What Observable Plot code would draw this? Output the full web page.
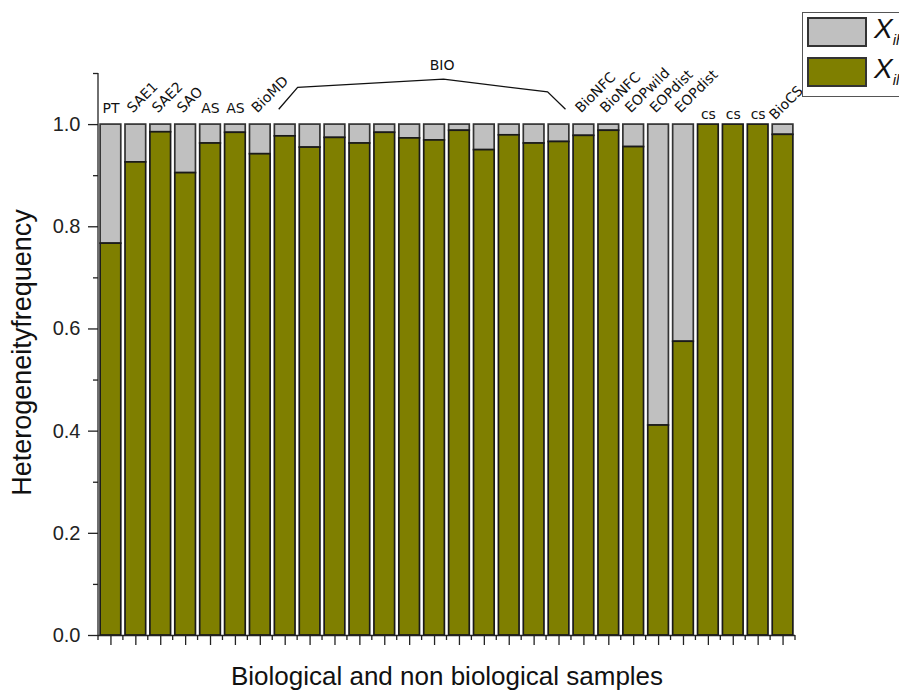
<!DOCTYPE html>
<html>
<head>
<meta charset="utf-8">
<script src="https://cdn.jsdelivr.net/npm/d3@7"></script>
<script src="https://cdn.jsdelivr.net/npm/@observablehq/plot@0.6"></script>
<style>
  html, body { margin: 0; padding: 0; background: #fff; overflow: hidden; }
  #wrap { position: relative; width: 899px; height: 693px; }
  .legend { position: absolute; left: 802px; top: 12px; width: 150px; height: 85px;
            border: 1px solid #555; background: #fff; box-sizing: border-box;
            font-family: "Liberation Sans", Arial, sans-serif; }
  .legend .item { position: absolute; left: 4px; height: 30px; }
  .legend .sw { position: absolute; left: 0; top: 0; width: 60px; height: 30px;
                border: 2px solid #333; box-sizing: border-box; }
  .legend .lab { position: absolute; left: 67px; top: -4px; font-size: 28px;
                 font-style: italic; white-space: nowrap; color: #111; }
  .legend .lab sub { font-size: 15px; }
</style>
</head>
<body>
<div id="wrap"></div>
<script>
// Sample names shown above each bar (the BIO group bars carry no individual name)
const labels = [
  "PT", "SAE1", "SAE2", "SAO", "AS", "AS", "BioMD",
  null, null, null, null, null, null, null, null, null, null, null, null,
  "BioNFC", "BioNFC", "EOPwild", "EOPdist", "EOPdist", "cs", "cs", "cs", "BioCS"
];
// Homogeneous fraction X_il of each sample; the heterogeneous part X_ih is the rest up to 1
const homogeneous = [
  0.767, 0.926, 0.985, 0.905, 0.963, 0.984, 0.942,
  0.977, 0.955, 0.974, 0.963, 0.984, 0.973, 0.969, 0.988, 0.950, 0.979, 0.963, 0.966,
  0.978, 0.988, 0.956, 0.411, 0.575, 1.000, 1.000, 1.000, 0.980
];
// Bracketed group of samples
const groupLabel = "BIO";
const groupFirst = 7;
const groupLast = 18;
// The control samples at the end (cs ... BioCS) have their names set a little lower
const controlFirst = 24;
// Series names and colours
const seriesNames = ["ih", "il"];
const seriesColors = ["#c0c0c0", "#7f7f00"];
// Axis ticks
const yMajor = [0, 0.2, 0.4, 0.6, 0.8, 1.0];
const yMinor = [0.1, 0.3, 0.5, 0.7, 0.9, 1.1];
const xTitle = "Biological and non biological samples";
const yTitle = "Heterogeneityfrequency";

const rows = labels.map((label, i) => ({i, label, il: homogeneous[i], ih: 1 - homogeneous[i]}));
const index = rows.map(d => d.i);

const axisFont = "'Liberation Sans', Arial, sans-serif";
const labelFont = "'DejaVu Sans', Verdana, sans-serif";
const ink = "#222";

// Left axis line and the short ticks on the bar boundaries
function axisLines(idx, scales) {
  const x = scales.x, y = scales.y;
  const step = x.step(), bw = x.bandwidth();
  const g = d3.create("svg:g").attr("stroke", ink).attr("stroke-width", 1.3).attr("fill", "none");
  const x0 = x(index[0]) + bw / 2 - step / 2;
  g.append("line").attr("x1", x0).attr("x2", x0).attr("y1", y(0)).attr("y2", y(1.1));
  const bounds = index.map(i => x(i) + bw / 2 - step / 2).concat([x(index[index.length - 1]) + bw / 2 + step / 2]);
  for (const b of bounds) {
    g.append("line").attr("x1", b).attr("x2", b).attr("y1", y(0)).attr("y2", y(0) + 5);
  }
  return g.node();
}

// Bracket spanning the BIO group, with its name above
function bracket(idx, scales) {
  const x = scales.x, y = scales.y;
  const step = x.step(), bw = x.bandwidth();
  const c0 = x(groupFirst) + bw / 2, c1 = x(groupLast) + bw / 2;
  const pts = [
    [c0 - 0.24 * step, 1.029],
    [c0 + 0.52 * step, 1.072],
    [c0 + 0.58 * (c1 - c0), 1.088],
    [c1 - 0.44 * step, 1.063],
    [c1 + 0.28 * step, 1.029]
  ];
  const g = d3.create("svg:g");
  g.append("path")
    .attr("d", d3.line().x(p => p[0]).y(p => y(p[1]))(pts))
    .attr("fill", "none").attr("stroke", "#111").attr("stroke-width", 1.3);
  g.append("text")
    .attr("x", c0 + 0.575 * (c1 - c0)).attr("y", y(1.106))
    .attr("text-anchor", "middle")
    .attr("font-family", labelFont).attr("font-size", 14).attr("fill", "#111")
    .text(groupLabel);
  return g.node();
}

// Sample-name marks: upright for short names, slanted for longer ones
function nameMarks(subset, lower) {
  const upright = subset.filter(d => d.label && d.label.length <= 2);
  const slanted = subset.filter(d => d.label && d.label.length > 2);
  return [
    Plot.text(upright, {
      x: "i", y: () => 1, text: "label", dy: lower ? -6 : -12, lineAnchor: "bottom",
      fontFamily: labelFont, fontSize: 14, fill: "#111"
    }),
    Plot.text(slanted, {
      x: "i", y: () => 1, text: "label", dx: lower ? -8 : -3, dy: lower ? -4 : -11, rotate: -45,
      textAnchor: "start", lineAnchor: "bottom",
      fontFamily: labelFont, fontSize: 14, fill: "#111"
    })
  ];
}

const chart = Plot.plot({
  width: 899,
  height: 693,
  marginLeft: 98,
  marginRight: 104,
  marginTop: 73,
  marginBottom: 58,
  style: {background: "white", fontFamily: axisFont, color: ink},
  x: {type: "band", domain: index, paddingInner: 0.17, paddingOuter: 0.085, round: false, label: null},
  y: {domain: [0, 1.1], label: null},
  marks: [
    // heterogeneous part on top
    Plot.barY(rows, {x: "i", y1: "il", y2: () => 1, fill: seriesColors[0], stroke: "#333", strokeWidth: 1.7}),
    // homogeneous part from zero
    Plot.barY(rows, {x: "i", y1: () => 0, y2: "il", fill: seriesColors[1], stroke: "#1a1a1a", strokeWidth: 1.7}),
    Plot.ruleY([0], {stroke: ink, strokeWidth: 1.3}),
    axisLines,
    Plot.axisX({ticks: index, tickSize: 10, fill: "none", stroke: ink, strokeWidth: 1.3}),
    Plot.axisY({ticks: yMajor, tickSize: 10, tickPadding: 8, tickFormat: ".1f",
                fontSize: 20, stroke: ink, strokeWidth: 1.3, fill: ink}),
    Plot.axisY({ticks: yMinor, tickSize: 5, fill: "none", stroke: ink, strokeWidth: 1.3}),
    ...nameMarks(rows.filter(d => d.i < controlFirst), false),
    ...nameMarks(rows.filter(d => d.i >= controlFirst), true),
    bracket,
    Plot.text([xTitle], {text: d => d, frameAnchor: "bottom", lineAnchor: "bottom", dy: 49, fontSize: 26, fill: "#111"}),
    Plot.text([yTitle], {text: d => d, frameAnchor: "left", textAnchor: "middle", dx: -76, dy: -2,
                         rotate: -90, fontSize: 27, fill: "#111"})
  ]
});

const wrap = document.getElementById("wrap");
wrap.appendChild(chart);

// Legend box in the top right corner
const legend = document.createElement("div");
legend.className = "legend";
seriesNames.forEach((name, k) => {
  const item = document.createElement("div");
  item.className = "item";
  item.style.top = (4 + k * 40) + "px";
  const sw = document.createElement("div");
  sw.className = "sw";
  sw.style.background = seriesColors[k];
  const lab = document.createElement("div");
  lab.className = "lab";
  lab.innerHTML = "X<sub>" + name + "</sub>";
  item.appendChild(sw);
  item.appendChild(lab);
  legend.appendChild(item);
});
wrap.appendChild(legend);
</script>
</body>
</html>
